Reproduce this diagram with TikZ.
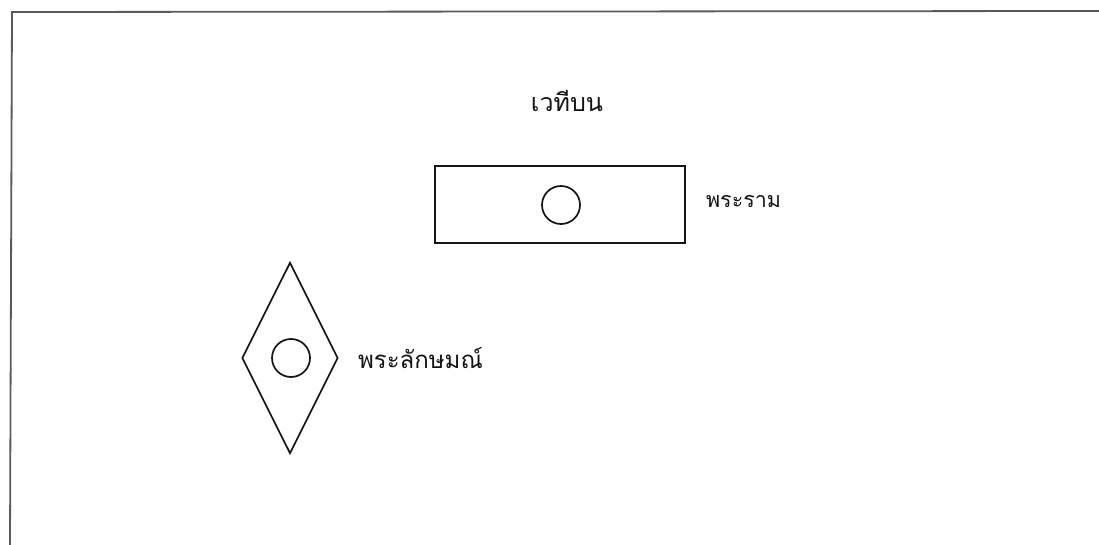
\documentclass[tikz,border=0pt]{standalone}
\usepackage{fontspec}
\usetikzlibrary{positioning,shapes.geometric}
\newfontfamily\thaifont[Script=Thai]{Loma}
\definecolor{FrameGray}{RGB}{90,90,90}
\definecolor{InkBlack}{RGB}{20,20,20}
\tikzset{
  frameline/.style={draw=FrameGray,line width=1.8pt},
  stagebox/.style={draw=InkBlack,line width=1.7pt,rectangle,inner sep=0pt,
    minimum width=250pt,minimum height=77pt},
  kitebox/.style={draw=InkBlack,line width=1.7pt,diamond,inner sep=0pt,
    minimum width=96pt,minimum height=191pt},
  seat/.style={draw=InkBlack,line width=1.7pt,circle,inner sep=0pt,
    minimum size=38pt},
  thailabel/.style={font=\thaifont\fontsize{21.5}{25}\selectfont,text=InkBlack,
    inner sep=0pt}
}
\begin{document}
\begin{tikzpicture}[x=1pt,y=-1pt,node distance=20pt]
  \useasboundingbox[fill=white] (0,0) rectangle (1099,545);
  \draw[frameline] (10,545) -- (12,12) -- (1099,11);

  \node[stagebox] (stage) at (560,204.5) {};
  \node[seat] (rama) at (561,205) {};
  \node[thailabel,font=\thaifont\fontsize{25}{29}\selectfont] (stagelbl) at (567,101) {เวทีบน};
  \node[thailabel,anchor=west,right=20pt of stage,yshift=3pt] (ramalbl) {พระราม};

  \node[kitebox] (kite) at (290,358) {};
  \node[seat] (lak) at (291,358) {};
  \node[thailabel,font=\thaifont\fontsize{24}{28}\selectfont,anchor=west,
    right=19pt of kite] (laklbl) {พระลักษมณ์};
\end{tikzpicture}
\end{document}
